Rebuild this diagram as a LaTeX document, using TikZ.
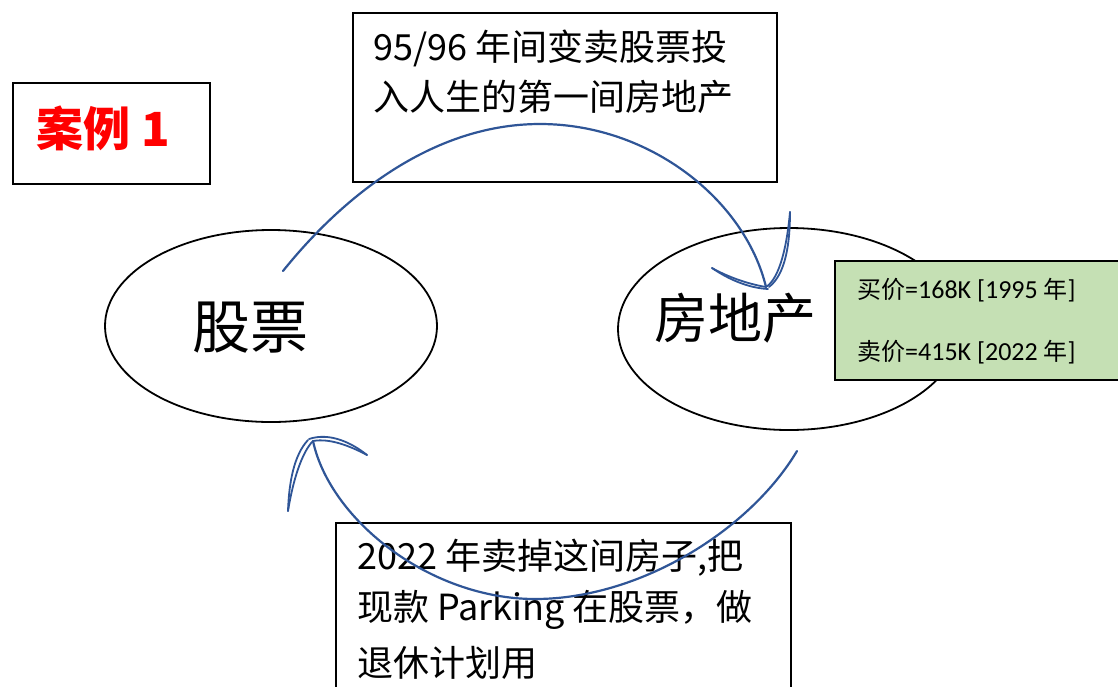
\documentclass[tikz,border=0pt]{standalone}
\usepackage{fontspec}
\setmainfont{Carlito}
\newfontfamily\cjk{Noto Sans CJK SC}
\usetikzlibrary{shapes.geometric}
\definecolor{arcblue}{RGB}{47,85,151}
\definecolor{boxgreen}{RGB}{197,224,180}
\definecolor{casered}{RGB}{255,0,0}
\begin{document}
\begin{tikzpicture}[x=1pt,y=-1pt,
  box/.style={draw=black, line width=1.6pt, fill=white, inner sep=0pt, anchor=north west},
  oval/.style={ellipse, draw=black, line width=1.8pt, inner sep=0pt},
  flow/.style={draw=arcblue, line width=2.2pt, line cap=round},
  head/.style={draw=arcblue, line width=1.8pt, line cap=round},
  txt/.style={inner sep=0pt, anchor=west, font=\cjk\fontsize{36}{40}\selectfont},
  price/.style={inner sep=0pt, anchor=west, font=\fontsize{26}{30}\selectfont}]
\useasboundingbox (0,0) rectangle (1118,686);
\fill[white] (0,0) rectangle (1118,686);

% ovals
\node[oval, minimum width=332pt, minimum height=192pt] (stock) at (271,326) {};
\node[oval, minimum width=342pt, minimum height=202pt] (estate) at (789,329) {};
\node[inner sep=0pt, font=\cjk\fontsize{58}{62}\selectfont] (stocktxt) at (250,328) {股票};
\node[inner sep=0pt, font=\cjk\fontsize{54}{60}\selectfont] (estatetxt) at (735,318) {房地产};

% case box
\node[box, minimum width=197pt, minimum height=101pt] (case) at (12,82) {};
\node[inner sep=0pt, text=casered, font=\cjk\bfseries\fontsize{47}{50}\selectfont] (casetxt) at (103,128) {案例 1};

% top box
\node[box, minimum width=424pt, minimum height=169pt] (topbox) at (352,12) {};
\node[txt] (t1) at (373,48) {95/96 年间变卖股票投};
\node[txt] (t2) at (373,97) {入人生的第一间房地产};

% bottom box
\node[box, minimum width=455pt, minimum height=200pt] (botbox) at (335,522) {};
\node[txt] (b1) at (357,558) {2022 年卖掉这间房子,把};
\node[txt] (b2) at (357,610) {现款 Parking 在股票，做};
\node[txt] (b3) at (357,663) {退休计划用};

% price box
\node[draw=black, line width=1.6pt, fill=boxgreen, anchor=north west, inner sep=0pt,
      minimum width=300pt, minimum height=119pt] (price) at (834,260) {};
\node[price] (p1) at (857,290) {{\cjk\fontsize{24}{28}\selectfont 买价}=168K [1995 {\cjk\fontsize{24}{28}\selectfont 年}]};
\node[price] (p2) at (857,352) {{\cjk\fontsize{24}{28}\selectfont 卖价}=415K [2022 {\cjk\fontsize{24}{28}\selectfont 年}]};

% top arc: stock -> estate
\coordinate (a1s) at (283,271);
\coordinate (a1m) at (540,124);
\coordinate (a1e) at (766,287);
\draw[flow] (a1s) .. controls (340,200) and (430,124) .. (a1m)
                  .. controls (650,124) and (745,200) .. (a1e);
\coordinate (h1a) at (712,268);
\coordinate (h1b) at (790,212);
\draw[head] (a1e) .. controls (748,284) and (728,277) .. (h1a);
\draw[head] ([xshift=2pt,yshift=-2pt]a1e) .. controls (748,288) and (728,279) .. (h1a);
\draw[head] (a1e) .. controls (780,278) and (787,245) .. (h1b);
\draw[head] ([xshift=3pt]a1e) .. controls (786,274) and (790,242) .. (h1b);

% bottom arc: estate -> stock
\coordinate (a2s) at (797,451);
\coordinate (a2m) at (535,599);
\coordinate (a2e) at (313,441);
\draw[flow] (a2s) .. controls (750,530) and (640,599) .. (a2m)
                  .. controls (430,599) and (330,520) .. (a2e);
\coordinate (h2a) at (367,455);
\coordinate (h2b) at (288,511);
\draw[head] (a2e) .. controls (330,438) and (350,446) .. (h2a);
\draw[head] ([xshift=-4pt,yshift=2pt]a2e) .. controls (330,432) and (352,443) .. (h2a);
\draw[head] (a2e) .. controls (302,452) and (293,480) .. (h2b);
\draw[head] ([xshift=-5pt,yshift=1pt]a2e) .. controls (294,455) and (289,482) .. (h2b);
\end{tikzpicture}
\end{document}
